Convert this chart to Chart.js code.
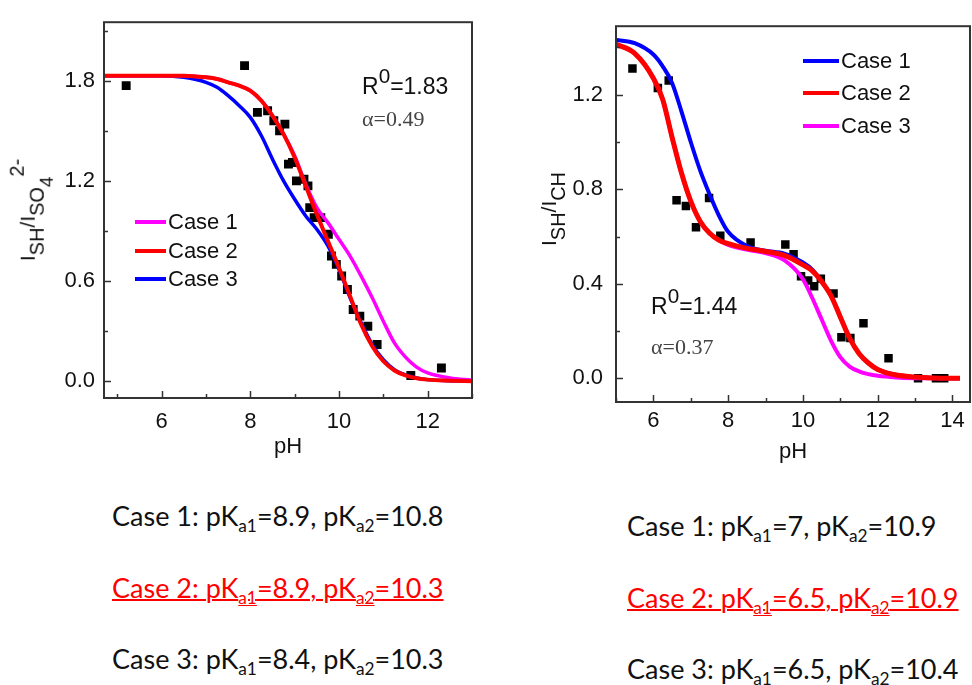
<!DOCTYPE html>
<html>
<head>
  <title>SH ratio vs pH</title>
  <style>
    body {
      margin: 0;
      background-color: #FFF;
      width: 972px;
      height: 685px;
      position: relative;
      overflow: hidden;
      font-family: "Liberation Sans", Arial, sans-serif;
      color: #111;
    }

    canvas {
      position: absolute;
      top: 0;
    }

    #leftChart { left: 0; }
    #rightChart { left: 500px; }

    .ytitle {
      position: absolute;
      font-size: 21px;
      white-space: nowrap;
      transform: translate(-50%, -50%) rotate(-90deg);
    }

    .ytitle sub {
      font-size: 0.95em;
      vertical-align: -0.45em;
      line-height: 0;
    }

    .ytitle sup {
      font-size: 0.95em;
      vertical-align: 0.55em;
      line-height: 0;
    }

    .lg {
      position: absolute;
      height: 24px;
      display: flex;
      align-items: center;
      font-size: 22px;
      white-space: nowrap;
    }

    .lg span {
      display: inline-block;
      height: 4px;
      margin-right: 2px;
    }

    .note {
      position: absolute;
      font-size: 23px;
      line-height: 23px;
      white-space: nowrap;
    }

    .note sup {
      font-size: 0.9em;
      vertical-align: 0.55em;
      line-height: 0;
    }

    .alpha {
      position: absolute;
      font-family: "Liberation Serif", "Times New Roman", serif;
      font-size: 22px;
      line-height: 22px;
      color: #444;
      white-space: nowrap;
    }

    .case {
      position: absolute;
      font-family: Lato, "Open Sans", sans-serif;
      font-size: 27px;
      line-height: 27px;
      white-space: nowrap;
      color: #111;
    }

    .case sub {
      font-size: 0.64em;
      vertical-align: -0.35em;
      line-height: 0;
    }

    .case.red {
      color: #FF0000;
      text-decoration: underline;
      text-decoration-thickness: 2px;
    }

    .case.red sub {
      text-decoration: underline;
    }
  </style>
</head>
<body>
  <canvas id="leftChart" width="490" height="470"></canvas>
  <canvas id="rightChart" width="476" height="470"></canvas>

  <div class="ytitle" style="left:31px; top:210px;">I<sub>SH</sub>/I<sub>SO<sub>4</sub></sub><sup>2-</sup></div>
  <div class="ytitle" style="left:549px; top:209px;">I<sub>SH</sub>/I<sub>CH</sub></div>

  <div class="lg" style="left:135px; top:210px;"><span style="width:31px; background:#FF00FF;"></span>Case 1</div>
  <div class="lg" style="left:135px; top:239px;"><span style="width:31px; background:#FF0000;"></span>Case 2</div>
  <div class="lg" style="left:135px; top:267px;"><span style="width:31px; background:#0000FF;"></span>Case 3</div>

  <div class="lg" style="left:803px; top:49px;"><span style="width:36px; background:#0000FF;"></span>Case 1</div>
  <div class="lg" style="left:803px; top:81px;"><span style="width:36px; background:#FF0000;"></span>Case 2</div>
  <div class="lg" style="left:803px; top:114px;"><span style="width:36px; background:#FF00FF;"></span>Case 3</div>

  <div class="note" style="left:362px; top:75px;">R<sup>0</sup>=1.83</div>
  <div class="alpha" style="left:362px; top:108px;">&alpha;=0.49</div>
  <div class="note" style="left:651px; top:295px;">R<sup>0</sup>=1.44</div>
  <div class="alpha" style="left:651px; top:336px;">&alpha;=0.37</div>

  <div class="case" style="left:112px; top:502px;">Case 1: pK<sub>a1</sub>=8.9, pK<sub>a2</sub>=10.8</div>
  <div class="case red" style="left:112px; top:574px;">Case 2: pK<sub>a1</sub>=8.9, pK<sub>a2</sub>=10.3</div>
  <div class="case" style="left:112px; top:645px;">Case 3: pK<sub>a1</sub>=8.4, pK<sub>a2</sub>=10.3</div>

  <div class="case" style="left:627px; top:512px;">Case 1: pK<sub>a1</sub>=7, pK<sub>a2</sub>=10.9</div>
  <div class="case red" style="left:627px; top:584px;">Case 2: pK<sub>a1</sub>=6.5, pK<sub>a2</sub>=10.9</div>
  <div class="case" style="left:627px; top:655px;">Case 3: pK<sub>a1</sub>=6.5, pK<sub>a2</sub>=10.4</div>

  <script src="https://cdn.jsdelivr.net/npm/chart.js"></script>

  <script>
    // left panel: I(SH)/I(SO4 2-)
    var leftFitPH = [4.7, 5, 5.5, 6, 6.5, 7, 7.25, 7.5, 7.75, 8, 8.25, 8.5, 8.75, 9, 9.25, 9.5, 9.75, 10, 10.25, 10.5, 10.75, 11, 11.25, 11.5, 11.75, 12, 12.5, 13];
    var leftCase1 = [1.83, 1.83, 1.83, 1.83, 1.83, 1.82, 1.81, 1.79, 1.77, 1.74, 1.68, 1.59, 1.48, 1.35, 1.18, 1.04, 0.95, 0.85, 0.75, 0.63, 0.50, 0.36, 0.23, 0.145, 0.085, 0.05, 0.02, 0.006];
    var leftCase2 = [1.83, 1.83, 1.83, 1.83, 1.83, 1.82, 1.81, 1.79, 1.77, 1.74, 1.68, 1.59, 1.48, 1.34, 1.17, 1.00, 0.84, 0.68, 0.51, 0.34, 0.21, 0.12, 0.065, 0.035, 0.018, 0.01, 0.004, 0.0];
    var leftCase3 = [1.83, 1.83, 1.83, 1.83, 1.82, 1.79, 1.76, 1.71, 1.65, 1.58, 1.47, 1.33, 1.20, 1.09, 0.99, 0.91, 0.81, 0.67, 0.50, 0.35, 0.22, 0.13, 0.07, 0.038, 0.02, 0.01, 0.004, 0.0];
    var leftDataPH = [5.2, 7.87, 8.16, 8.39, 8.53, 8.66, 8.78, 8.86, 8.95, 9.04, 9.21, 9.30, 9.34, 9.44, 9.59, 9.76, 9.83, 9.94, 10.06, 10.19, 10.32, 10.47, 10.65, 10.86, 11.62, 12.31];
    var leftDataY = [1.77, 1.89, 1.61, 1.62, 1.56, 1.50, 1.54, 1.30, 1.31, 1.20, 1.21, 1.17, 1.04, 0.98, 0.98, 0.88, 0.75, 0.70, 0.63, 0.55, 0.43, 0.39, 0.33, 0.22, 0.035, 0.08];
    var leftXTicks = [5, 6, 7, 8, 9, 10, 11, 12, 13];
    var leftXLabels = [6, 8, 10, 12];
    var leftYTicks = [0, 0.3, 0.6, 0.9, 1.2, 1.5, 1.8, 2.1];
    var leftYLabels = [0, 0.6, 1.2, 1.8];

    // right panel: I(SH)/I(CH)
    var rightFitPH = [5.0, 5.5, 6.0, 6.25, 6.5, 6.75, 7.0, 7.25, 7.5, 7.75, 8.0, 8.5, 9.0, 9.5, 10.0, 10.25, 10.5, 10.75, 11.0, 11.25, 11.5, 11.75, 12.0, 12.5, 13.0, 13.5, 14.2];
    var rightCase1 = [1.432, 1.418, 1.37, 1.32, 1.25, 1.13, 1.00, 0.88, 0.78, 0.69, 0.62, 0.56, 0.54, 0.528, 0.49, 0.46, 0.41, 0.35, 0.26, 0.17, 0.105, 0.065, 0.038, 0.014, 0.006, 0.002, 0.0];
    var rightCase2 = [1.414, 1.375, 1.27, 1.18, 1.02, 0.87, 0.75, 0.665, 0.615, 0.585, 0.57, 0.55, 0.537, 0.52, 0.48, 0.455, 0.41, 0.35, 0.26, 0.17, 0.105, 0.065, 0.038, 0.014, 0.006, 0.002, 0.0];
    var rightCase3 = [1.414, 1.375, 1.27, 1.18, 1.02, 0.87, 0.75, 0.665, 0.615, 0.585, 0.565, 0.545, 0.53, 0.50, 0.42, 0.34, 0.25, 0.16, 0.09, 0.05, 0.03, 0.018, 0.011, 0.004, 0.001, 0.0, 0.0];
    var rightDataPH = [5.44, 6.12, 6.41, 6.62, 6.87, 7.14, 7.49, 7.79, 8.60, 9.53, 9.75, 9.95, 10.14, 10.30, 10.48, 10.82, 11.03, 11.27, 11.62, 12.29, 13.08, 13.56, 13.78];
    var rightDataY = [1.311, 1.229, 1.26, 0.754, 0.729, 0.639, 0.763, 0.603, 0.575, 0.566, 0.525, 0.432, 0.414, 0.39, 0.422, 0.359, 0.174, 0.171, 0.233, 0.085, 0.0, 0.0, 0.0];
    var rightXTicks = [5, 6, 7, 8, 9, 10, 11, 12, 13, 14];
    var rightXLabels = [6, 8, 10, 12, 14];
    var rightYTicks = [0, 0.2, 0.4, 0.6, 0.8, 1.0, 1.2, 1.4];
    var rightYLabels = [0, 0.4, 0.8, 1.2];

    function toPoints(xs, ys) {
      return xs.map(function(x, i) { return { x: x, y: ys[i] }; });
    }

    // box frame + inward ticks (long for labelled ticks, short for the rest)
    var frameTicks = {
      id: 'frameTicks',
      afterDraw: function(chart) {
        var ctx = chart.ctx;
        var a = chart.chartArea;
        var xs = chart.scales.x;
        var ys = chart.scales.y;
        ctx.save();
        ctx.strokeStyle = '#333';
        ctx.lineWidth = 2;
        ctx.strokeRect(a.left, a.top, a.right - a.left, a.bottom - a.top);
        ctx.lineWidth = 1.5;
        xs.ticks.forEach(function(t) {
          var px = Math.round(xs.getPixelForValue(t.value)) + 0.5;
          var len = t.label ? 7 : 4;
          ctx.beginPath();
          ctx.moveTo(px, a.bottom);
          ctx.lineTo(px, a.bottom - len);
          ctx.stroke();
        });
        ys.ticks.forEach(function(t) {
          var py = Math.round(ys.getPixelForValue(t.value)) + 0.5;
          var len = t.label ? 7 : 4;
          ctx.beginPath();
          ctx.moveTo(a.left, py);
          ctx.lineTo(a.left + len, py);
          ctx.stroke();
        });
        ctx.restore();
      }
    };

    function lineSet(xs, ys, color, width) {
      return {
        type: 'line',
        data: toPoints(xs, ys),
        borderColor: color,
        borderWidth: width,
        pointRadius: 0,
        fill: false,
        cubicInterpolationMode: 'monotone'
      };
    }

    function makeChart(id, opts) {
      var tickFont = { family: '"Liberation Sans", Arial, sans-serif', size: 22 };
      return new Chart(document.getElementById(id), {
        type: 'scatter',
        data: {
          datasets: [
            lineSet(opts.fitPH, opts.top.values, opts.top.color, opts.top.width),
            lineSet(opts.fitPH, opts.mid.values, opts.mid.color, opts.mid.width),
            lineSet(opts.fitPH, opts.low.values, opts.low.color, opts.low.width),
            {
              data: toPoints(opts.dataPH, opts.dataY),
              pointStyle: 'rect',
              pointRadius: opts.markerRadius,
              backgroundColor: '#000',
              borderColor: '#000',
              borderWidth: 0,
              showLine: false
            }
          ]
        },
        options: {
          responsive: false,
          animation: false,
          devicePixelRatio: 1,
          layout: { padding: opts.padding },
          plugins: { legend: { display: false }, tooltip: { enabled: false } },
          scales: {
            x: {
              type: 'linear',
              min: opts.xMin,
              max: opts.xMax,
              grid: { display: false, drawTicks: false },
              border: { display: false },
              afterBuildTicks: function(scale) {
                scale.ticks = opts.xTicks.map(function(v) { return { value: v }; });
              },
              afterFit: function(scale) { scale.height = opts.xHeight; },
              ticks: {
                autoSkip: false,
                maxRotation: 0,
                padding: opts.xPad,
                color: '#111',
                font: tickFont,
                callback: function(v) { return opts.xLabels.indexOf(v) >= 0 ? String(v) : ''; }
              },
              title: {
                display: true,
                text: 'pH',
                color: '#111',
                font: tickFont,
                padding: { top: 0, bottom: opts.titlePad }
              }
            },
            y: {
              type: 'linear',
              min: opts.yMin,
              max: opts.yMax,
              grid: { display: false, drawTicks: false },
              border: { display: false },
              afterBuildTicks: function(scale) {
                scale.ticks = opts.yTicks.map(function(v) { return { value: v }; });
              },
              afterFit: function(scale) { scale.width = opts.yWidth; },
              ticks: {
                autoSkip: false,
                padding: opts.yPad,
                color: '#111',
                font: tickFont,
                callback: function(v) {
                  for (var i = 0; i < opts.yLabels.length; i++) {
                    if (Math.abs(opts.yLabels[i] - v) < 1e-6) return v.toFixed(1);
                  }
                  return '';
                }
              }
            }
          }
        },
        plugins: [frameTicks]
      });
    }

    makeChart('leftChart', {
      fitPH: leftFitPH,
      top: { values: leftCase2, color: '#FF0000', width: 4 },
      mid: { values: leftCase1, color: '#FF00FF', width: 3.5 },
      low: { values: leftCase3, color: '#0000FF', width: 3.5 },
      dataPH: leftDataPH,
      dataY: leftDataY,
      markerRadius: 6.3,
      xMin: 4.7, xMax: 13.0,
      yMin: -0.1, yMax: 2.15,
      xTicks: leftXTicks, xLabels: leftXLabels,
      yTicks: leftYTicks, yLabels: leftYLabels,
      padding: { left: 0, top: 12, right: 18, bottom: 0 },
      xHeight: 72, yWidth: 104,
      xPad: 11, yPad: 9, titlePad: 10
    });

    makeChart('rightChart', {
      fitPH: rightFitPH,
      top: { values: rightCase2, color: '#FF0000', width: 5 },
      mid: { values: rightCase1, color: '#0000FF', width: 4 },
      low: { values: rightCase3, color: '#FF00FF', width: 4 },
      dataPH: rightDataPH,
      dataY: rightDataY,
      markerRadius: 6,
      xMin: 5.0, xMax: 14.47,
      yMin: -0.1, yMax: 1.49,
      xTicks: rightXTicks, xLabels: rightXLabels,
      yTicks: rightYTicks, yLabels: rightYLabels,
      padding: { left: 0, top: 15, right: 0, bottom: 0 },
      xHeight: 68, yWidth: 116,
      xPad: 6, yPad: 13, titlePad: 5
    });
  </script>
</body>
</html>
